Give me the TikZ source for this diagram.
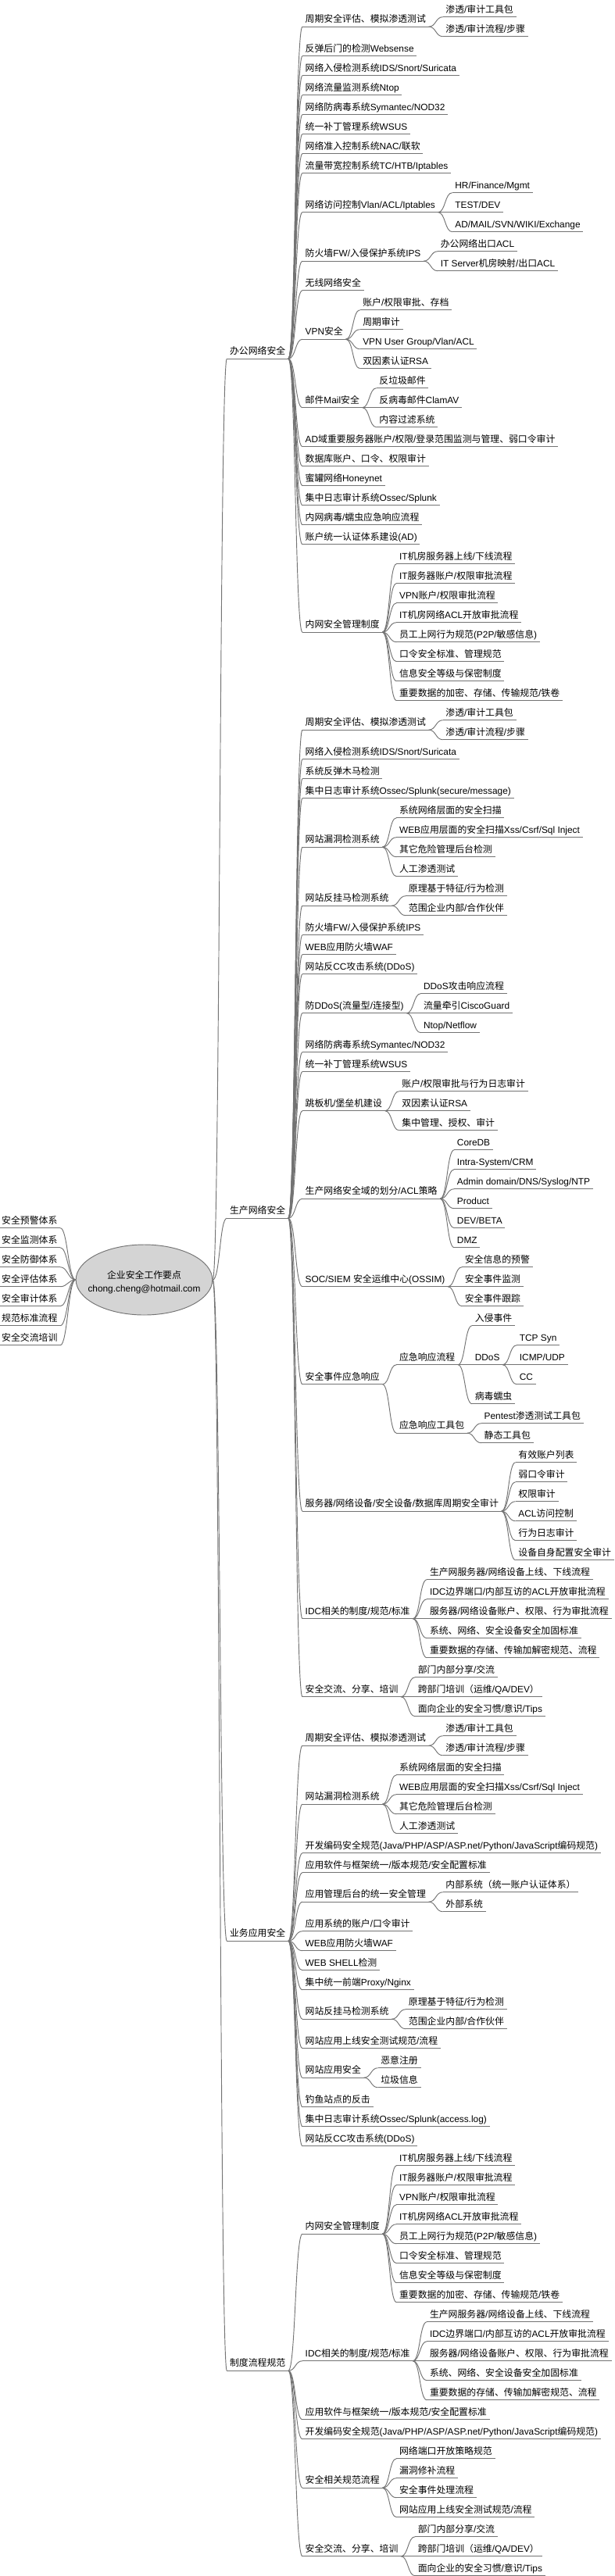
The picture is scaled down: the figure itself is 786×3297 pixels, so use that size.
\documentclass[tikz,border=0pt]{standalone}
\usepackage{fontspec}
\setmainfont{Liberation Sans}
\newfontfamily\cjkfont{Noto Sans CJK SC}
\newfontfamily\latfont{Liberation Sans}
\XeTeXinterchartokenstate=1
\newXeTeXintercharclass\cjkcls
\newcount\cjkcnt
\cjkcnt="4E00
\loop\ifnum\cjkcnt<"A000
  \XeTeXcharclass\cjkcnt=\cjkcls
  \advance\cjkcnt by 1
\repeat
\XeTeXcharclass"3001=\cjkcls
\XeTeXcharclass"3002=\cjkcls
\XeTeXcharclass"FF08=\cjkcls
\XeTeXcharclass"FF09=\cjkcls
\XeTeXcharclass"FF0C=\cjkcls
\XeTeXinterchartoks 0 \cjkcls = {\cjkfont}
\XeTeXinterchartoks 4095 \cjkcls = {\cjkfont}
\XeTeXinterchartoks \cjkcls 0 = {\latfont}
\XeTeXinterchartoks 4095 0 = {\latfont}
\usetikzlibrary{shapes.geometric}
\definecolor{lc}{RGB}{115,115,115}
\definecolor{ef}{RGB}{212,212,212}
\tikzset{
  ndb/.style={anchor=south west, inner xsep=2.6pt, inner ysep=0pt, text depth=4pt, font=\fontsize{8.9pt}{10pt}\selectfont},
  nd/.style={ndb, xshift=13.5pt},
  ln/.style={draw=lc, line width=0.7pt},
}
% name, parent anchor, y, text
\newcommand\mmn[4]{%
  \node[nd] (#1) at (#2 |- 0,#3) {#4};
  \draw[ln] (#1.south west) -- (#1.south east);
  \draw[ln] (#2) .. controls ([xshift=7pt]#2) and ([xshift=-7pt]#1.south west) .. (#1.south west);
}
% left items: name, y, text
\newcommand\mml[3]{%
  \node[ndb] (#1) at (-1.5,#2) {#3};
  \draw[ln] (#1.south west) -- (#1.south east);
  \draw[ln] (#1.south east) .. controls ([xshift=7pt]#1.south east) and ([xshift=-7pt]root.west) .. (root.west);
}
\begin{document}
\begin{tikzpicture}[x=0.75pt,y=-0.75pt]
\fill[white] (0,0) rectangle (786,3297);
\useasboundingbox (0,0) rectangle (786,3297);
\node[ellipse, draw=lc, fill=ef, line width=0.7pt, minimum width=131pt, minimum height=67.5pt, inner sep=0pt] (root) at (184.5,1638) {};
\node[align=center, inner sep=0pt, font=\fontsize{8.9pt}{12.75pt}\selectfont] (roottxt) at (184.5,1641) {企业安全工作要点\\chong.cheng@hotmail.com};
% left
\mml{l1}{1571.7}{安全预警体系}
\mml{l2}{1596.7}{安全监测体系}
\mml{l3}{1621.7}{安全防御体系}
\mml{l4}{1646.7}{安全评估体系}
\mml{l5}{1671.7}{安全审计体系}
\mml{l6}{1696.7}{规范标准流程}
\mml{l7}{1721.7}{安全交流培训}
% office
\mmn{o}{root.east}{459.2}{办公网络安全}
\mmn{o1}{o.south east}{34.2}{周期安全评估、模拟渗透测试}
\mmn{o1a}{o1.south east}{21.7}{渗透/审计工具包}
\mmn{o1b}{o1.south east}{46.7}{渗透/审计流程/步骤}
\mmn{o2}{o.south east}{71.7}{反弹后门的检测Websense}
\mmn{o3}{o.south east}{96.7}{网络入侵检测系统IDS/Snort/Suricata}
\mmn{o4}{o.south east}{121.7}{网络流量监测系统Ntop}
\mmn{o5}{o.south east}{146.7}{网络防病毒系统Symantec/NOD32}
\mmn{o6}{o.south east}{171.7}{统一补丁管理系统WSUS}
\mmn{o7}{o.south east}{196.7}{网络准入控制系统NAC/联软}
\mmn{o8}{o.south east}{221.7}{流量带宽控制系统TC/HTB/Iptables}
\mmn{o9}{o.south east}{271.7}{网络访问控制Vlan/ACL/Iptables}
\mmn{o9a}{o9.south east}{246.7}{HR/Finance/Mgmt}
\mmn{o9b}{o9.south east}{271.7}{TEST/DEV}
\mmn{o9c}{o9.south east}{296.7}{AD/MAIL/SVN/WIKI/Exchange}
\mmn{o10}{o.south east}{334.2}{防火墙FW/入侵保护系统IPS}
\mmn{o10a}{o10.south east}{321.7}{办公网络出口ACL}
\mmn{o10b}{o10.south east}{346.7}{IT Server机房映射/出口ACL}
\mmn{o11}{o.south east}{371.7}{无线网络安全}
\mmn{o12}{o.south east}{434.2}{VPN安全}
\mmn{o12a}{o12.south east}{396.7}{账户/权限审批、存档}
\mmn{o12b}{o12.south east}{421.7}{周期审计}
\mmn{o12c}{o12.south east}{446.7}{VPN User Group/Vlan/ACL}
\mmn{o12d}{o12.south east}{471.7}{双因素认证RSA}
\mmn{o13}{o.south east}{521.7}{邮件Mail安全}
\mmn{o13a}{o13.south east}{496.7}{反垃圾邮件}
\mmn{o13b}{o13.south east}{521.7}{反病毒邮件ClamAV}
\mmn{o13c}{o13.south east}{546.7}{内容过滤系统}
\mmn{o14}{o.south east}{571.7}{AD域重要服务器账户/权限/登录范围监测与管理、弱口令审计}
\mmn{o15}{o.south east}{596.7}{数据库账户、口令、权限审计}
\mmn{o16}{o.south east}{621.7}{蜜罐网络Honeynet}
\mmn{o17}{o.south east}{646.7}{集中日志审计系统Ossec/Splunk}
\mmn{o18}{o.south east}{671.7}{内网病毒/蠕虫应急响应流程}
\mmn{o19}{o.south east}{696.7}{账户统一认证体系建设(AD)}
\mmn{o20}{o.south east}{809.2}{内网安全管理制度}
\mmn{o20a}{o20.south east}{721.7}{IT机房服务器上线/下线流程}
\mmn{o20b}{o20.south east}{746.7}{IT服务器账户/权限审批流程}
\mmn{o20c}{o20.south east}{771.7}{VPN账户/权限审批流程}
\mmn{o20d}{o20.south east}{796.7}{IT机房网络ACL开放审批流程}
\mmn{o20e}{o20.south east}{821.7}{员工上网行为规范(P2P/敏感信息)}
\mmn{o20f}{o20.south east}{846.7}{口令安全标准、管理规范}
\mmn{o20g}{o20.south east}{871.7}{信息安全等级与保密制度}
\mmn{o20h}{o20.south east}{896.7}{重要数据的加密、存储、传输规范/铁卷}
% production
\mmn{p}{root.east}{1559.2}{生产网络安全}
\mmn{p1}{p.south east}{934.2}{周期安全评估、模拟渗透测试}
\mmn{p1a}{p1.south east}{921.7}{渗透/审计工具包}
\mmn{p1b}{p1.south east}{946.7}{渗透/审计流程/步骤}
\mmn{p2}{p.south east}{971.7}{网络入侵检测系统IDS/Snort/Suricata}
\mmn{p3}{p.south east}{996.7}{系统反弹木马检测}
\mmn{p4}{p.south east}{1021.7}{集中日志审计系统Ossec/Splunk(secure/message)}
\mmn{p5}{p.south east}{1084.2}{网站漏洞检测系统}
\mmn{p5a}{p5.south east}{1046.7}{系统网络层面的安全扫描}
\mmn{p5b}{p5.south east}{1071.7}{WEB应用层面的安全扫描Xss/Csrf/Sql Inject}
\mmn{p5c}{p5.south east}{1096.7}{其它危险管理后台检测}
\mmn{p5d}{p5.south east}{1121.7}{人工渗透测试}
\mmn{p6}{p.south east}{1159.2}{网站反挂马检测系统}
\mmn{p6a}{p6.south east}{1146.7}{原理基于特征/行为检测}
\mmn{p6b}{p6.south east}{1171.7}{范围企业内部/合作伙伴}
\mmn{p7}{p.south east}{1196.7}{防火墙FW/入侵保护系统IPS}
\mmn{p8}{p.south east}{1221.7}{WEB应用防火墙WAF}
\mmn{p9}{p.south east}{1246.7}{网站反CC攻击系统(DDoS)}
\mmn{p10}{p.south east}{1296.7}{防DDoS(流量型/连接型)}
\mmn{p10a}{p10.south east}{1271.7}{DDoS攻击响应流程}
\mmn{p10b}{p10.south east}{1296.7}{流量牵引CiscoGuard}
\mmn{p10c}{p10.south east}{1321.7}{Ntop/Netflow}
\mmn{p11}{p.south east}{1346.7}{网络防病毒系统Symantec/NOD32}
\mmn{p12}{p.south east}{1371.7}{统一补丁管理系统WSUS}
\mmn{p13}{p.south east}{1421.7}{跳板机/堡垒机建设}
\mmn{p13a}{p13.south east}{1396.7}{账户/权限审批与行为日志审计}
\mmn{p13b}{p13.south east}{1421.7}{双因素认证RSA}
\mmn{p13c}{p13.south east}{1446.7}{集中管理、授权、审计}
\mmn{p14}{p.south east}{1534.2}{生产网络安全域的划分/ACL策略}
\mmn{p14a}{p14.south east}{1471.7}{CoreDB}
\mmn{p14b}{p14.south east}{1496.7}{Intra-System/CRM}
\mmn{p14c}{p14.south east}{1521.7}{Admin domain/DNS/Syslog/NTP}
\mmn{p14d}{p14.south east}{1546.7}{Product}
\mmn{p14e}{p14.south east}{1571.7}{DEV/BETA}
\mmn{p14f}{p14.south east}{1596.7}{DMZ}
\mmn{p15}{p.south east}{1646.7}{SOC/SIEM 安全运维中心(OSSIM)}
\mmn{p15a}{p15.south east}{1621.7}{安全信息的预警}
\mmn{p15b}{p15.south east}{1646.7}{安全事件监测}
\mmn{p15c}{p15.south east}{1671.7}{安全事件跟踪}
\mmn{p16}{p.south east}{1771.7}{安全事件应急响应}
\mmn{p16a}{p16.south east}{1746.7}{应急响应流程}
\mmn{p16a1}{p16a.south east}{1696.7}{入侵事件}
\mmn{p16a2}{p16a.south east}{1746.7}{DDoS}
\mmn{p16a2a}{p16a2.south east}{1721.7}{TCP Syn}
\mmn{p16a2b}{p16a2.south east}{1746.7}{ICMP/UDP}
\mmn{p16a2c}{p16a2.south east}{1771.7}{CC}
\mmn{p16a3}{p16a.south east}{1796.7}{病毒蠕虫}
\mmn{p16b}{p16.south east}{1834.2}{应急响应工具包}
\mmn{p16b1}{p16b.south east}{1821.7}{Pentest渗透测试工具包}
\mmn{p16b2}{p16b.south east}{1846.7}{静态工具包}
\mmn{p17}{p.south east}{1934.2}{服务器/网络设备/安全设备/数据库周期安全审计}
\mmn{p17a}{p17.south east}{1871.7}{有效账户列表}
\mmn{p17b}{p17.south east}{1896.7}{弱口令审计}
\mmn{p17c}{p17.south east}{1921.7}{权限审计}
\mmn{p17d}{p17.south east}{1946.7}{ACL访问控制}
\mmn{p17e}{p17.south east}{1971.7}{行为日志审计}
\mmn{p17f}{p17.south east}{1996.7}{设备自身配置安全审计}
\mmn{p18}{p.south east}{2071.7}{IDC相关的制度/规范/标准}
\mmn{p18a}{p18.south east}{2021.7}{生产网服务器/网络设备上线、下线流程}
\mmn{p18b}{p18.south east}{2046.7}{IDC边界端口/内部互访的ACL开放审批流程}
\mmn{p18c}{p18.south east}{2071.7}{服务器/网络设备账户、权限、行为审批流程}
\mmn{p18d}{p18.south east}{2096.7}{系统、网络、安全设备安全加固标准}
\mmn{p18e}{p18.south east}{2121.7}{重要数据的存储、传输加解密规范、流程}
\mmn{p19}{p.south east}{2171.7}{安全交流、分享、培训}
\mmn{p19a}{p19.south east}{2146.7}{部门内部分享/交流}
\mmn{p19b}{p19.south east}{2171.7}{跨部门培训（运维/QA/DEV）}
\mmn{p19c}{p19.south east}{2196.7}{面向企业的安全习惯/意识/Tips}
% business
\mmn{b}{root.east}{2484.2}{业务应用安全}
\mmn{b1}{b.south east}{2234.2}{周期安全评估、模拟渗透测试}
\mmn{b1a}{b1.south east}{2221.7}{渗透/审计工具包}
\mmn{b1b}{b1.south east}{2246.7}{渗透/审计流程/步骤}
\mmn{b2}{b.south east}{2309.2}{网站漏洞检测系统}
\mmn{b2a}{b2.south east}{2271.7}{系统网络层面的安全扫描}
\mmn{b2b}{b2.south east}{2296.7}{WEB应用层面的安全扫描Xss/Csrf/Sql Inject}
\mmn{b2c}{b2.south east}{2321.7}{其它危险管理后台检测}
\mmn{b2d}{b2.south east}{2346.7}{人工渗透测试}
\mmn{b3}{b.south east}{2371.7}{开发编码安全规范(Java/PHP/ASP/ASP.net/Python/JavaScript编码规范)}
\mmn{b4}{b.south east}{2396.7}{应用软件与框架统一/版本规范/安全配置标准}
\mmn{b5}{b.south east}{2434.2}{应用管理后台的统一安全管理}
\mmn{b5a}{b5.south east}{2421.7}{内部系统（统一账户认证体系）}
\mmn{b5b}{b5.south east}{2446.7}{外部系统}
\mmn{b6}{b.south east}{2471.7}{应用系统的账户/口令审计}
\mmn{b7}{b.south east}{2496.7}{WEB应用防火墙WAF}
\mmn{b8}{b.south east}{2521.7}{WEB SHELL检测}
\mmn{b9}{b.south east}{2546.7}{集中统一前端Proxy/Nginx}
\mmn{b10}{b.south east}{2584.2}{网站反挂马检测系统}
\mmn{b10a}{b10.south east}{2571.7}{原理基于特征/行为检测}
\mmn{b10b}{b10.south east}{2596.7}{范围企业内部/合作伙伴}
\mmn{b11}{b.south east}{2621.7}{网站应用上线安全测试规范/流程}
\mmn{b12}{b.south east}{2659.2}{网站应用安全}
\mmn{b12a}{b12.south east}{2646.7}{恶意注册}
\mmn{b12b}{b12.south east}{2671.7}{垃圾信息}
\mmn{b13}{b.south east}{2696.7}{钓鱼站点的反击}
\mmn{b14}{b.south east}{2721.7}{集中日志审计系统Ossec/Splunk(access.log)}
\mmn{b15}{b.south east}{2746.7}{网站反CC攻击系统(DDoS)}
% policy
\mmn{z}{root.east}{3034.2}{制度流程规范}
\mmn{z1}{z.south east}{2859.2}{内网安全管理制度}
\mmn{z1a}{z1.south east}{2771.7}{IT机房服务器上线/下线流程}
\mmn{z1b}{z1.south east}{2796.7}{IT服务器账户/权限审批流程}
\mmn{z1c}{z1.south east}{2821.7}{VPN账户/权限审批流程}
\mmn{z1d}{z1.south east}{2846.7}{IT机房网络ACL开放审批流程}
\mmn{z1e}{z1.south east}{2871.7}{员工上网行为规范(P2P/敏感信息)}
\mmn{z1f}{z1.south east}{2896.7}{口令安全标准、管理规范}
\mmn{z1g}{z1.south east}{2921.7}{信息安全等级与保密制度}
\mmn{z1h}{z1.south east}{2946.7}{重要数据的加密、存储、传输规范/铁卷}
\mmn{z2}{z.south east}{3021.7}{IDC相关的制度/规范/标准}
\mmn{z2a}{z2.south east}{2971.7}{生产网服务器/网络设备上线、下线流程}
\mmn{z2b}{z2.south east}{2996.7}{IDC边界端口/内部互访的ACL开放审批流程}
\mmn{z2c}{z2.south east}{3021.7}{服务器/网络设备账户、权限、行为审批流程}
\mmn{z2d}{z2.south east}{3046.7}{系统、网络、安全设备安全加固标准}
\mmn{z2e}{z2.south east}{3071.7}{重要数据的存储、传输加解密规范、流程}
\mmn{z3}{z.south east}{3096.7}{应用软件与框架统一/版本规范/安全配置标准}
\mmn{z4}{z.south east}{3121.7}{开发编码安全规范(Java/PHP/ASP/ASP.net/Python/JavaScript编码规范)}
\mmn{z5}{z.south east}{3184.2}{安全相关规范流程}
\mmn{z5a}{z5.south east}{3146.7}{网络端口开放策略规范}
\mmn{z5b}{z5.south east}{3171.7}{漏洞修补流程}
\mmn{z5c}{z5.south east}{3196.7}{安全事件处理流程}
\mmn{z5d}{z5.south east}{3221.7}{网站应用上线安全测试规范/流程}
\mmn{z6}{z.south east}{3271.7}{安全交流、分享、培训}
\mmn{z6a}{z6.south east}{3246.7}{部门内部分享/交流}
\mmn{z6b}{z6.south east}{3271.7}{跨部门培训（运维/QA/DEV）}
\mmn{z6c}{z6.south east}{3296.7}{面向企业的安全习惯/意识/Tips}
\end{tikzpicture}
\end{document}
